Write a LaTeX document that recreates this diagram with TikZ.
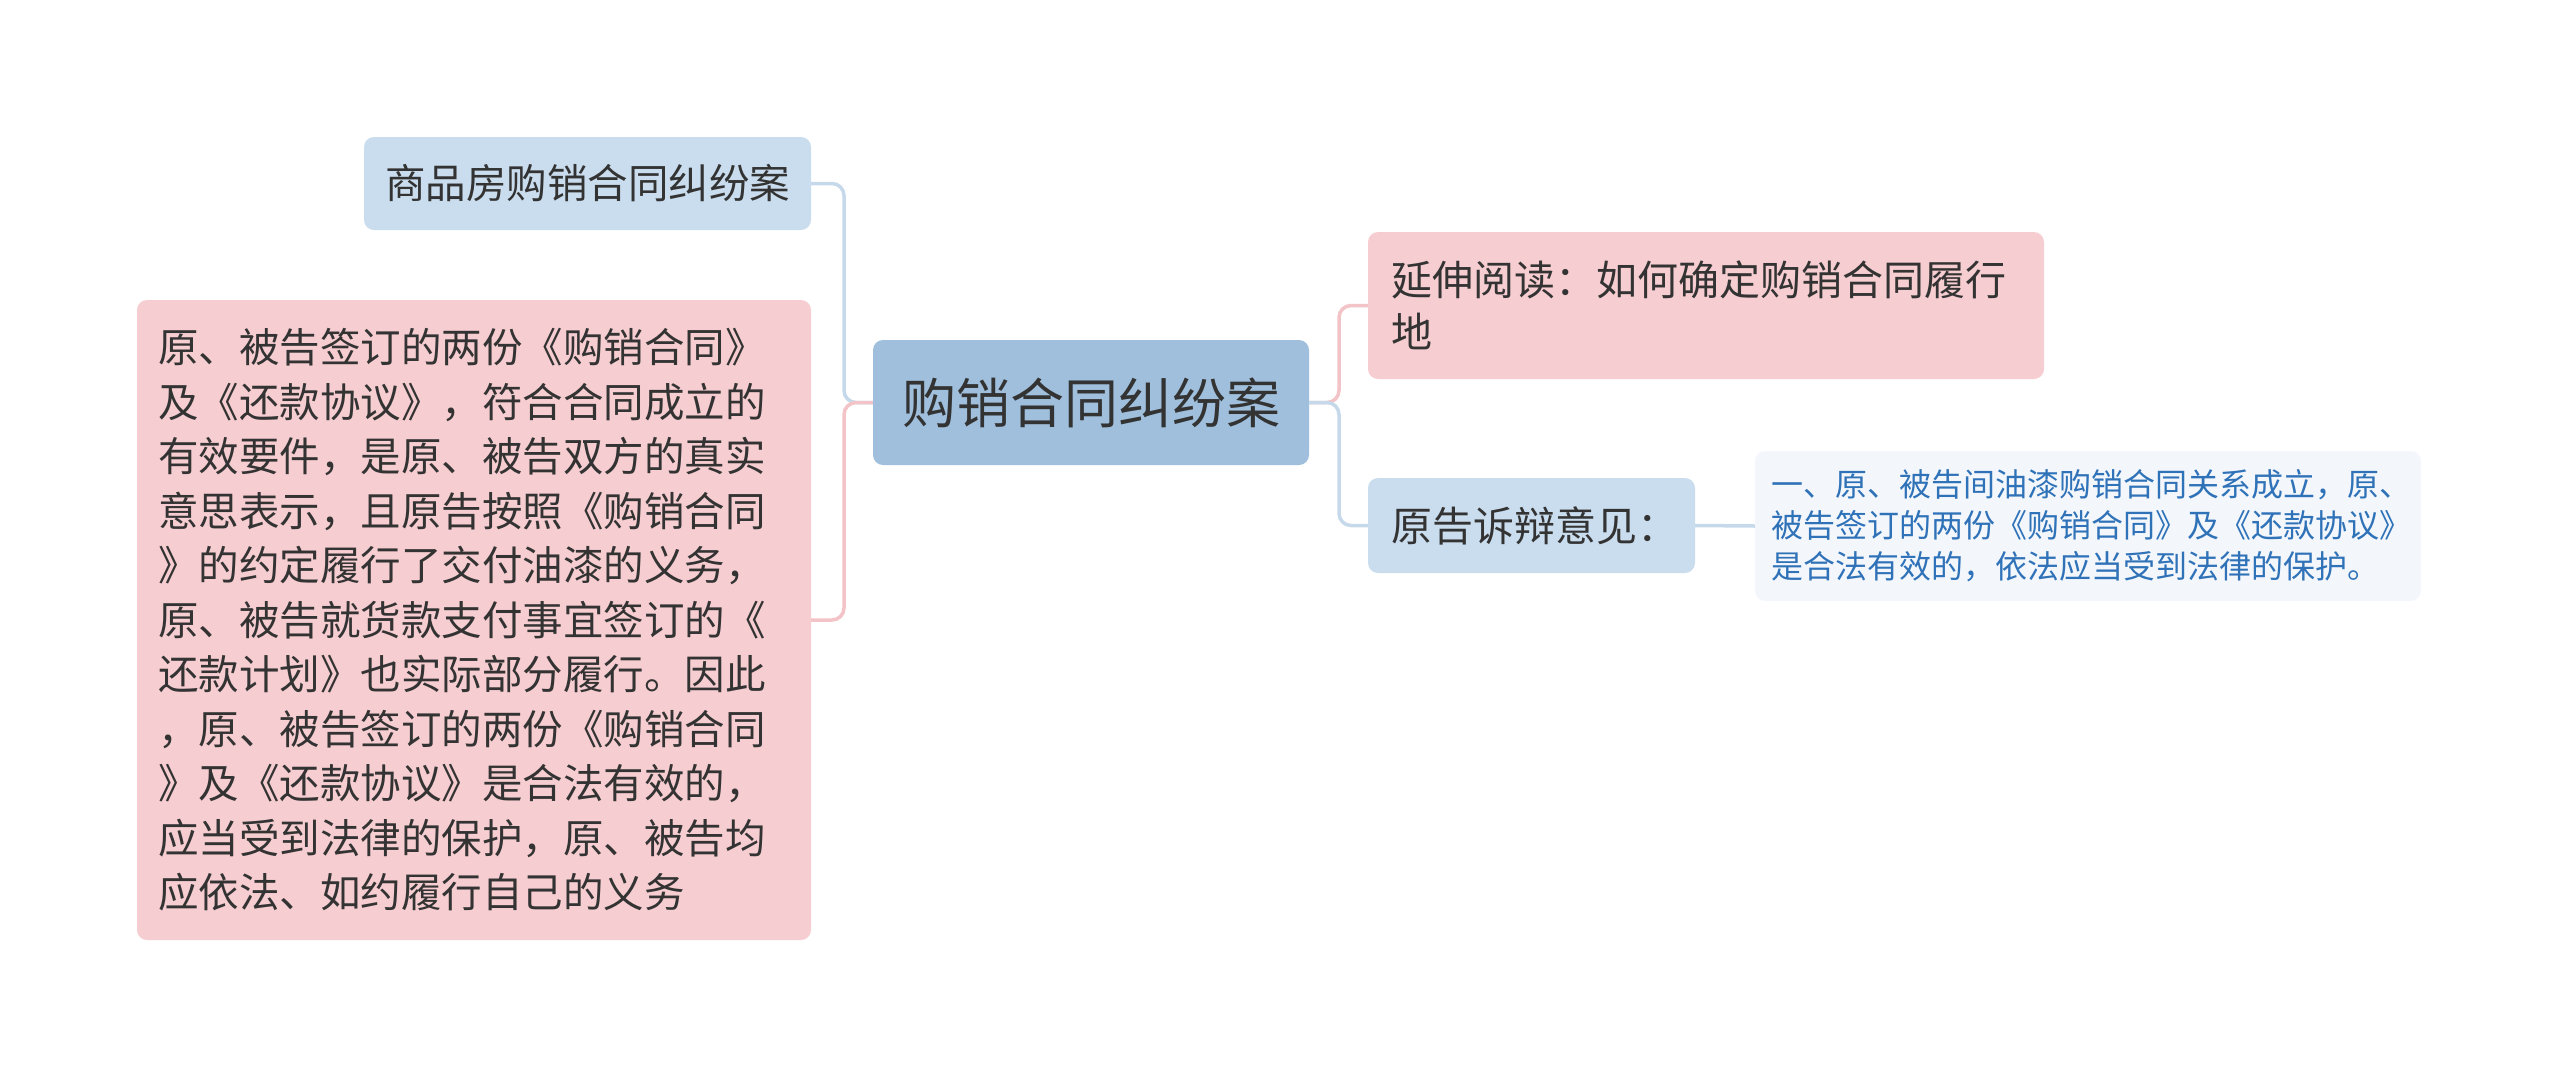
\documentclass[tikz,border=0pt]{standalone}
\usepackage{fontspec}
\setmainfont{Noto Sans CJK SC}
\definecolor{txt}{HTML}{333333}
\definecolor{rootfill}{HTML}{9FBFDC}
\definecolor{bluefill}{HTML}{CADDEE}
\definecolor{pinkfill}{HTML}{F6CDD0}
\definecolor{leaffill}{HTML}{F3F7FC}
\definecolor{leaftxt}{HTML}{2F72B8}
\definecolor{blueline}{HTML}{C6D9EB}
\definecolor{pinkline}{HTML}{F2C3C7}
\tikzset{
  box/.style={rounded corners=10pt, inner sep=0pt, text=txt, align=left},
  rootbox/.style={box, fill=rootfill, minimum width=436pt, minimum height=125pt, align=center,
    font=\fontsize{54pt}{64pt}\selectfont},
  bluebox/.style={box, fill=bluefill, font=\fontsize{40.5pt}{52pt}\selectfont},
  pinkbox/.style={box, fill=pinkfill, font=\fontsize{40.5pt}{54.5pt}\selectfont},
  leafbox/.style={box, fill=leaffill, text=leaftxt, font=\fontsize{32pt}{41pt}\selectfont},
  bconn/.style={draw=blueline, line width=3.5pt, rounded corners=12pt},
  pconn/.style={draw=pinkline, line width=3.5pt, rounded corners=12pt},
}
\begin{document}
\begin{tikzpicture}[x=1pt,y=-1pt]
\useasboundingbox (0,0) rectangle (2560,1077);
% nodes
\node[rootbox] (root) at (1091,402.5) {购销合同纠纷案};
\node[bluebox, minimum width=447pt, minimum height=93pt, align=center] (top) at (587.5,183.5) {商品房购销合同纠纷案};
\node[pinkbox, minimum width=674pt, minimum height=640pt, text width=632pt] (big) at (474,620) {原、被告签订的两份《购销合同》\\及《还款协议》，符合合同成立的\\有效要件，是原、被告双方的真实\\意思表示，且原告按照《购销合同\\》的约定履行了交付油漆的义务，\\原、被告就货款支付事宜签订的《\\还款计划》也实际部分履行。因此\\，原、被告签订的两份《购销合同\\》及《还款协议》是合法有效的，\\应当受到法律的保护，原、被告均\\应依法、如约履行自己的义务};
\node[pinkbox, minimum width=676pt, minimum height=147pt, text width=630pt, font=\fontsize{41pt}{52pt}\selectfont] (ext) at (1706,305.5) {延伸阅读：如何确定购销合同履行\\地};
\node[bluebox, minimum width=327pt, minimum height=95pt, text width=281pt, font=\fontsize{41pt}{52pt}\selectfont] (opin) at (1531.5,525.5) {原告诉辩意见：};
\node[leafbox, minimum width=666pt, minimum height=150pt, text width=634pt] (leaf) at (2088,526) {一、原、被告间油漆购销合同关系成立，原、\\被告签订的两份《购销合同》及《还款协议》\\是合法有效的，依法应当受到法律的保护。};
% junctions
\coordinate (lj) at (844,402.5);
\coordinate (rj) at (1339,402.5);
% connectors
\draw[bconn] (root.west) -- (lj) |- (top.east);
\draw[pconn] (root.west) -- (lj) |- (big.east);
\draw[pconn] (root.east) -- (rj) |- (ext.west);
\draw[bconn] (root.east) -- (rj) |- (opin.west);
\draw[bconn] (opin.east) -- (leaf.west);
\end{tikzpicture}
\end{document}
